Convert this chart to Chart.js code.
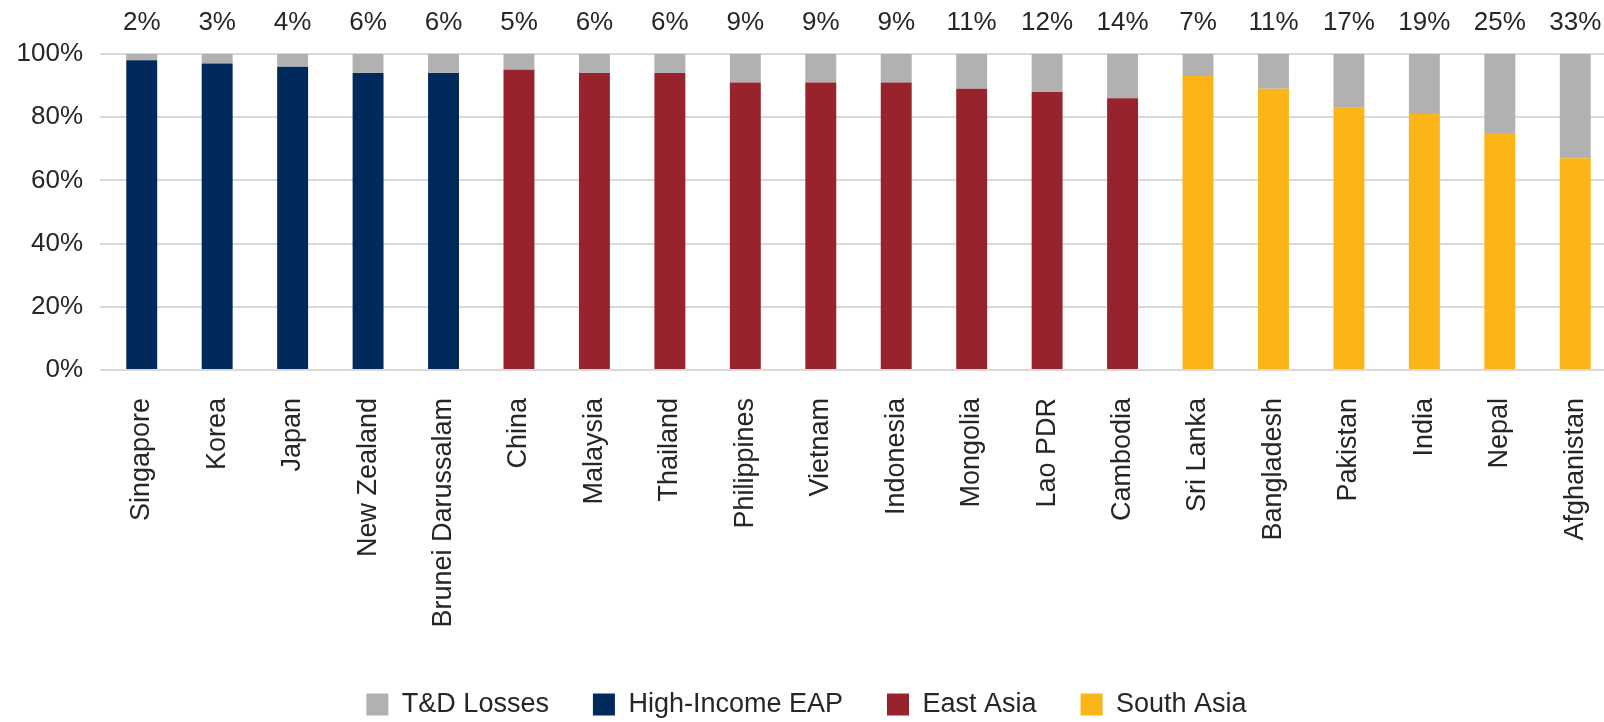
<!DOCTYPE html>
<html>
<head>
<meta charset="utf-8">
<script src="https://cdn.jsdelivr.net/npm/chart.js@4"></script>
<style>
html,body{margin:0;padding:0;background:#fff;overflow:hidden;}
canvas{display:block;}
</style>
</head>
<body>
<canvas id="c" width="1613" height="722"></canvas>
<script>
const categories = ["Singapore","Korea","Japan","New Zealand","Brunei Darussalam","China","Malaysia","Thailand","Philippines","Vietnam","Indonesia","Mongolia","Lao PDR","Cambodia","Sri Lanka","Bangladesh","Pakistan","India","Nepal","Afghanistan"];
const lossPct = [2,3,4,6,6,5,6,6,9,9,9,11,12,14,7,11,17,19,25,33];
const highIncomeEAP = [98,97,96,94,94,null,null,null,null,null,null,null,null,null,null,null,null,null,null,null];
const eastAsia = [null,null,null,null,null,95,94,94,91,91,91,89,88,86,null,null,null,null,null,null];
const southAsia = [null,null,null,null,null,null,null,null,null,null,null,null,null,null,93,89,83,81,75,67];
const yTicks = [0,20,40,60,80,100];

const FONT = "'Liberation Sans', Arial, sans-serif";
const TXT = "#262626";

const topLabels = {
  id: 'topLabels',
  afterDatasetsDraw(chart) {
    const xs = chart.scales.x;
    const ctx = chart.ctx;
    ctx.save();
    ctx.font = "26px " + FONT;
    ctx.fillStyle = TXT;
    ctx.textAlign = 'center';
    ctx.textBaseline = 'middle';
    lossPct.forEach((v, i) => {
      ctx.fillText(v + '%', xs.getPixelForValue(i), 23);
    });
    ctx.restore();
  }
};

const legendRank = {"T&D Losses":0,"High-Income EAP":1,"East Asia":2,"South Asia":3};

new Chart(document.getElementById('c'), {
  type: 'bar',
  data: {
    labels: categories,
    datasets: [
      {label: 'High-Income EAP', data: highIncomeEAP, backgroundColor: '#002A5C'},
      {label: 'East Asia', data: eastAsia, backgroundColor: '#98232D'},
      {label: 'South Asia', data: southAsia, backgroundColor: '#FBB517'},
      {label: 'T&D Losses', data: lossPct, backgroundColor: '#B2B1B1'}
    ]
  },
  options: {
    responsive: false,
    animation: false,
    layout: {padding: {top: 54, left: 0, right: 0, bottom: -6}},
    datasets: {bar: {categoryPercentage: 1, barPercentage: 0.41, borderWidth: 0}},
    plugins: {
      tooltip: {enabled: false},
      legend: {
        position: 'bottom',
        labels: {
          font: {family: FONT, size: 27},
          color: TXT,
          boxWidth: 22,
          boxHeight: 22,
          padding: 44,
          sort: (a, b) => legendRank[a.text] - legendRank[b.text]
        }
      }
    },
    scales: {
      x: {
        stacked: true,
        grid: {display: false},
        border: {display: false},
        ticks: {
          font: {family: FONT, size: 27},
          color: TXT,
          minRotation: 90,
          maxRotation: 90,
          autoSkip: false,
          padding: 20
        },
        afterFit(scale) {
          scale.paddingLeft = 0;
          scale.paddingRight = 0;
          const lh = scale.chart.legend ? scale.chart.legend.height : 0;
          scale.height = scale.chart.height - 54 - 316 - lh + 6;
        }
      },
      y: {
        stacked: true,
        min: 0,
        max: 100,
        afterBuildTicks(scale) { scale.ticks = yTicks.map(v => ({value: v})); },
        grid: {color: '#D9D9D9', lineWidth: 2, tickLength: 4, drawTicks: true},
        border: {display: false},
        ticks: {
          font: {family: FONT, size: 26},
          color: TXT,
          padding: 17,
          callback: v => v + '%'
        },
        afterFit(scale) { scale.width = 104; }
      }
    }
  },
  plugins: [topLabels]
});
</script>
</body>
</html>
